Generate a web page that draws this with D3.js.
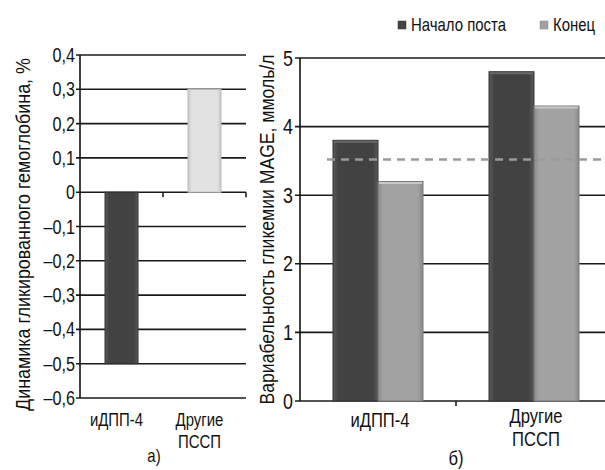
<!DOCTYPE html>
<html>
<head>
<meta charset="utf-8">
<script src="https://cdn.jsdelivr.net/npm/d3@7"></script>
<style>
	body { margin: 0; background: #fff; }
	svg { display: block; font-family: "Liberation Sans", Arial, sans-serif; }
</style>
</head>
<body>
<svg id="chart" width="605" height="470"></svg>
<script>
// panel a) — change of glycated haemoglobin
const groupsA = ["иДПП-4", "Другие ПССП"];
const valuesA = [-0.5, 0.3];
const ticksA = [0.4, 0.3, 0.2, 0.1, 0, -0.1, -0.2, -0.3, -0.4, -0.5, -0.6];

// panel б) — MAGE
const groupsB = ["иДПП-4", "Другие ПССП"];
const seriesB = ["Начало поста", "Конец"];
const startB = [3.8, 4.8];
const endB = [3.2, 4.3];
const refLineB = 3.52;
const ticksB = [0, 1, 2, 3, 4, 5];

const svg = d3.select("#chart");
const defs = svg.append("defs");
const NARROW = 0.83;  // fake a narrow font by squeezing

function barGradient(id, edge, mid) {
	const g = defs.append("linearGradient").attr("id", id)
		.attr("x1", 0).attr("x2", 1).attr("y1", 0).attr("y2", 0);
	g.append("stop").attr("offset", "0%").attr("stop-color", edge);
	g.append("stop").attr("offset", "12%").attr("stop-color", mid);
	g.append("stop").attr("offset", "88%").attr("stop-color", mid);
	g.append("stop").attr("offset", "100%").attr("stop-color", edge);
}
barGradient("gDark", "#5a5a5a", "#424242");
barGradient("gLight", "#c8c8c8", "#e2e2e2");
barGradient("gMid", "#8a8a8a", "#a2a2a2");

// squeezed text at (x, y)
function put(parent, x, y, txt, size, anchor) {
	return parent.append("text")
		.attr("transform", `translate(${x},${y}) scale(${NARROW},1)`)
		.attr("text-anchor", anchor || "middle")
		.attr("font-size", size).attr("fill", "#111")
		.text(txt);
}

const fmt = v => v === 0 ? "0" : (v < 0 ? "\u2013" : "") + d3.format(".1f")(Math.abs(v)).replace(".", ",");

// ---------- panel a ----------
const xA = d3.scaleBand().domain(groupsA).range([80, 246]);
const yA = d3.scaleLinear().domain([-0.6, 0.4]).range([398, 55]);

const gA = svg.append("g");
gA.append("g").selectAll("line").data(ticksA).join("line")
	.attr("x1", 76).attr("x2", 246)
	.attr("y1", d => yA(d)).attr("y2", d => yA(d))
	.attr("stroke", "#1a1a1a").attr("stroke-width", 1.6);

ticksA.forEach(t => put(gA, 75, yA(t) + 7, fmt(t), 19.5, "end"));

gA.append("line").attr("x1", 80).attr("x2", 80)
	.attr("y1", yA(0.4)).attr("y2", yA(-0.6))
	.attr("stroke", "#111").attr("stroke-width", 1.6);

// category ticks on the zero line
gA.append("g").selectAll("line").data([xA.step() + 80, 246]).join("line")
	.attr("x1", d => d).attr("x2", d => d)
	.attr("y1", yA(0)).attr("y2", yA(0) + 5)
	.attr("stroke", "#111").attr("stroke-width", 1.5);

const bwA = 33;
gA.append("g").selectAll("rect").data(valuesA).join("rect")
	.attr("x", (d, i) => xA(groupsA[i]) + xA.bandwidth() / 2 - bwA / 2)
	.attr("y", d => yA(Math.max(0, d)))
	.attr("width", bwA)
	.attr("height", d => Math.abs(yA(d) - yA(0)))
	.attr("fill", (d, i) => i === 0 ? "url(#gDark)" : "url(#gLight)")
	.attr("stroke", (d, i) => i === 0 ? "#333" : "#bbb")
	.attr("stroke-width", 1);

groupsA.forEach(g => {
	const cx = xA(g) + xA.bandwidth() / 2 - 5;
	g.split(" ").forEach((p, i) => put(gA, cx, 426 + i * 22, p, 18));
});
put(gA, 154, 462, "а)", 18);

gA.append("text").attr("transform", `translate(30,${(yA(0.4) + yA(-0.6)) / 2 + 8}) rotate(-90)`)
	.attr("text-anchor", "middle").attr("font-size", 20).attr("fill", "#111")
	.attr("textLength", 353).attr("lengthAdjust", "spacingAndGlyphs")
	.text("Динамика гликированного гемоглобина, %");

// ---------- panel б ----------
const xB = d3.scaleBand().domain(groupsB).range([300, 612]);
const xSub = d3.scaleBand().domain(seriesB).range([0, 90]);
const yB = d3.scaleLinear().domain([0, 5]).range([401, 58]);

const gB = svg.append("g");
gB.append("g").selectAll("line").data(ticksB).join("line")
	.attr("x1", 295).attr("x2", 612)
	.attr("y1", d => yB(d)).attr("y2", d => yB(d))
	.attr("stroke", "#1a1a1a").attr("stroke-width", 1.6);

ticksB.forEach(t => put(gB, 293, yB(t) + 7.5, t, 21.5, "end"));

gB.append("line").attr("x1", 300).attr("x2", 300)
	.attr("y1", yB(5)).attr("y2", yB(0))
	.attr("stroke", "#111").attr("stroke-width", 1.6);

gB.append("line").attr("x1", 300 + xB.step()).attr("x2", 300 + xB.step())
	.attr("y1", yB(0)).attr("y2", yB(0) + 5)
	.attr("stroke", "#111").attr("stroke-width", 1.5);

const barsB = [];
groupsB.forEach((g, i) => {
	barsB.push({ g, s: seriesB[0], v: startB[i] });
	barsB.push({ g, s: seriesB[1], v: endB[i] });
});
const offB = xB.bandwidth() / 2 - 45;
gB.append("g").selectAll("rect").data(barsB).join("rect")
	.attr("x", d => xB(d.g) + offB + xSub(d.s))
	.attr("y", d => yB(d.v))
	.attr("width", xSub.bandwidth())
	.attr("height", d => yB(0) - yB(d.v))
	.attr("fill", d => d.s === seriesB[0] ? "url(#gDark)" : "url(#gMid)")
	.attr("stroke", d => d.s === seriesB[0] ? "#333" : "#7a7a7a")
	.attr("stroke-width", 1);

// light top edge on bars
gB.append("g").selectAll("line").data(barsB).join("line")
	.attr("x1", d => xB(d.g) + offB + xSub(d.s) + 1)
	.attr("x2", d => xB(d.g) + offB + xSub(d.s) + xSub.bandwidth() - 1)
	.attr("y1", d => yB(d.v) + 1.5).attr("y2", d => yB(d.v) + 1.5)
	.attr("stroke", d => d.s === seriesB[0] ? "#6a6a6a" : "#c8c8c8").attr("stroke-width", 2);

gB.append("line")
	.attr("x1", 327).attr("x2", 605)
	.attr("y1", yB(refLineB)).attr("y2", yB(refLineB))
	.attr("stroke", "#9a9a9a").attr("stroke-width", 2.5)
	.attr("stroke-dasharray", "8,6");

groupsB.forEach(g => {
	const cx = xB(g) + xB.bandwidth() / 2 + 2;
	const parts = g.split(" ");
	const y0 = parts.length > 1 ? 423 : 427;
	parts.forEach((p, i) => put(gB, cx, y0 + i * 23, p, 20));
});
put(gB, 300 + xB.step(), 465, "б)", 20);

gB.append("text").attr("transform", `translate(274,${(yB(5) + yB(0)) / 2}) rotate(-90)`)
	.attr("text-anchor", "middle").attr("font-size", 20).attr("fill", "#111")
	.attr("textLength", 350).attr("lengthAdjust", "spacingAndGlyphs")
	.text("Вариабельность гликемии MAGE, ммоль/л");

// legend
const legX = [398, 540];
const leg = svg.append("g").selectAll("g").data(seriesB).join("g")
	.attr("transform", (d, i) => `translate(${legX[i]},25)`);
leg.append("rect").attr("x", 0).attr("y", -4).attr("width", 8).attr("height", 8)
	.attr("fill", (d, i) => i === 0 ? "#444" : "#a0a0a0")
	.attr("stroke", (d, i) => i === 0 ? "#333" : "#888").attr("stroke-width", 0.5);
leg.each(function(d) { put(d3.select(this), 13, 6, d, 18, "start"); });
</script>
</body>
</html>
